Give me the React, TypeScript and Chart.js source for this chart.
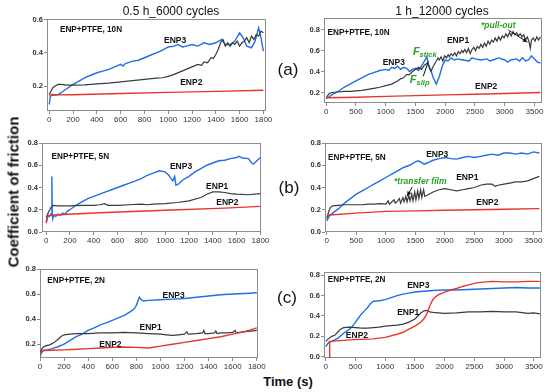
import React, { useEffect, useRef } from "react";
import { Chart, registerables } from "chart.js";
Chart.register(...registerables);

type Pt = [number, number];

// ---------- tick labels ----------
const xTicksHalfHour = [0, 200, 400, 600, 800, 1000, 1200, 1400, 1600, 1800];
const xTicksHour = [0, 500, 1000, 1500, 2000, 2500, 3000, 3500];
const yTicksTopLeft = [0.2, 0.4, 0.6];
const yTicksTopRight = [0.2, 0.4, 0.6, 0.8];
const yTicksFull = [0.0, 0.2, 0.4, 0.6, 0.8];
const yTicksBottomLeft = [0.2, 0.4, 0.6, 0.8];

const columnTitles = ["0.5 h_6000 cycles", "1 h_12000 cycles"];
const rowLetters = ["(a)", "(b)", "(c)"];
const yTitle = "Coefficient of friction";
const xTitle = "Time (s)";

// ---------- data: [time (s), COF] ----------
// (a) 10 N, 0.5 h
const a05Enp3: Pt[] = [[0,0.09],[10,0.14],[25,0.15],[50,0.145],[75,0.15],[100,0.16],[150,0.185],[200,0.21],[250,0.23],[300,0.25],[350,0.265],[400,0.28],[450,0.29],[500,0.30],[550,0.315],[600,0.33],[620,0.32],[640,0.335],[700,0.35],[750,0.355],[800,0.37],[850,0.385],[900,0.40],[950,0.415],[1000,0.435],[1050,0.44],[1080,0.45],[1120,0.435],[1150,0.44],[1200,0.45],[1250,0.44],[1300,0.46],[1350,0.45],[1400,0.46],[1450,0.48],[1480,0.45],[1520,0.45],[1560,0.47],[1600,0.52],[1630,0.49],[1660,0.44],[1700,0.43],[1730,0.47],[1760,0.55],[1780,0.49],[1800,0.41]];
const a05Enp1: Pt[] = [[0,0.15],[15,0.17],[30,0.19],[50,0.20],[75,0.21],[100,0.21],[150,0.205],[200,0.205],[300,0.207],[400,0.213],[500,0.218],[600,0.225],[700,0.232],[800,0.24],[900,0.248],[950,0.25],[1000,0.258],[1050,0.27],[1100,0.285],[1150,0.30],[1200,0.315],[1250,0.33],[1280,0.325],[1300,0.345],[1330,0.34],[1360,0.37],[1380,0.365],[1400,0.39],[1420,0.42],[1440,0.46],[1460,0.48],[1480,0.44],[1500,0.46],[1520,0.44],[1540,0.46],[1560,0.45],[1580,0.47],[1600,0.44],[1620,0.46],[1640,0.47],[1660,0.49],[1680,0.46],[1700,0.50],[1720,0.48],[1740,0.51],[1760,0.50],[1780,0.53],[1800,0.52]];
const a05Enp2: Pt[] = [[0,0.16],[10,0.14],[25,0.145],[50,0.147],[200,0.148],[600,0.155],[1000,0.162],[1400,0.168],[1800,0.175]];

// (a) 10 N, 1 h
const a1Enp3: Pt[] = [[0,0.14],[50,0.16],[100,0.18],[200,0.21],[300,0.25],[400,0.28],[500,0.31],[600,0.34],[700,0.37],[800,0.39],[900,0.41],[1000,0.42],[1050,0.41],[1100,0.44],[1150,0.43],[1200,0.45],[1250,0.42],[1300,0.44],[1350,0.43],[1400,0.40],[1450,0.42],[1500,0.43],[1550,0.41],[1600,0.45],[1650,0.50],[1690,0.54],[1720,0.47],[1760,0.41],[1800,0.34],[1850,0.28],[1900,0.35],[1950,0.45],[2000,0.51],[2050,0.50],[2100,0.53],[2150,0.51],[2200,0.52],[2300,0.51],[2400,0.50],[2450,0.53],[2500,0.52],[2600,0.51],[2700,0.52],[2750,0.50],[2800,0.51],[2900,0.53],[3000,0.51],[3050,0.49],[3100,0.51],[3200,0.52],[3250,0.50],[3300,0.53],[3350,0.50],[3400,0.51],[3450,0.55],[3500,0.52],[3550,0.49],[3600,0.48]];
const a1Enp1: Pt[] = [[0,0.15],[50,0.19],[100,0.20],[200,0.205],[300,0.21],[400,0.21],[500,0.215],[600,0.22],[700,0.23],[800,0.24],[900,0.25],[1000,0.265],[1100,0.28],[1200,0.31],[1250,0.33],[1300,0.34],[1350,0.37],[1400,0.37],[1450,0.40],[1500,0.42],[1550,0.44],[1600,0.42],[1650,0.46],[1700,0.48],[1730,0.44],[1760,0.40],[1800,0.45],[1850,0.50],[1880,0.53],[1900,0.51],[1930,0.54],[1960,0.50],[1990,0.55],[2020,0.53],[2050,0.56],[2070,0.54],[2100,0.57],[2130,0.55],[2160,0.58],[2190,0.55],[2220,0.59],[2250,0.57],[2280,0.60],[2300,0.58],[2330,0.61],[2360,0.58],[2390,0.62],[2420,0.57],[2450,0.61],[2480,0.63],[2510,0.60],[2540,0.64],[2570,0.62],[2600,0.66],[2630,0.63],[2660,0.67],[2690,0.64],[2720,0.69],[2750,0.66],[2780,0.70],[2810,0.68],[2840,0.72],[2870,0.69],[2900,0.73],[2930,0.70],[2960,0.74],[2990,0.72],[3020,0.76],[3050,0.73],[3080,0.77],[3110,0.74],[3140,0.78],[3170,0.75],[3200,0.77],[3230,0.74],[3260,0.76],[3290,0.73],[3320,0.75],[3350,0.70],[3380,0.73],[3410,0.68],[3430,0.62],[3450,0.70],[3480,0.72],[3510,0.69],[3540,0.73],[3570,0.70],[3600,0.73]];
const a1Enp2: Pt[] = [[0,0.15],[500,0.155],[1000,0.163],[1500,0.17],[2000,0.177],[2500,0.183],[3000,0.19],[3600,0.20]];

// (b) 5 N, 0.5 h
const b05Enp3: Pt[] = [[0,0.09],[10,0.13],[20,0.15],[30,0.14],[40,0.16],[45,0.15],[48,0.50],[51,0.16],[55,0.12],[65,0.15],[80,0.14],[100,0.16],[120,0.15],[140,0.17],[160,0.16],[180,0.19],[200,0.20],[250,0.24],[300,0.27],[350,0.30],[400,0.32],[450,0.34],[500,0.36],[550,0.38],[600,0.40],[650,0.42],[700,0.44],[750,0.46],[800,0.48],[850,0.51],[900,0.53],[950,0.55],[1000,0.54],[1030,0.51],[1050,0.48],[1065,0.46],[1080,0.50],[1090,0.42],[1110,0.43],[1150,0.47],[1200,0.50],[1250,0.54],[1300,0.57],[1350,0.60],[1400,0.62],[1450,0.64],[1500,0.645],[1550,0.66],[1600,0.67],[1620,0.68],[1650,0.665],[1700,0.66],[1720,0.63],[1740,0.61],[1760,0.63],[1780,0.65],[1800,0.67]];
const b05Enp1: Pt[] = [[0,0.13],[20,0.18],[40,0.22],[60,0.24],[100,0.235],[200,0.235],[300,0.24],[400,0.24],[450,0.245],[490,0.255],[520,0.24],[600,0.24],[700,0.245],[800,0.25],[850,0.245],[900,0.25],[1000,0.255],[1100,0.265],[1200,0.28],[1300,0.31],[1350,0.34],[1400,0.36],[1450,0.36],[1500,0.355],[1550,0.345],[1600,0.34],[1700,0.335],[1800,0.345]];
const b05Enp2: Pt[] = [[0,0.08],[15,0.14],[30,0.15],[100,0.155],[500,0.175],[1000,0.195],[1500,0.215],[1800,0.23]];

// (b) 5 N, 1 h
const b1Enp3: Pt[] = [[0,0.10],[50,0.15],[100,0.17],[200,0.21],[300,0.26],[400,0.30],[500,0.34],[600,0.37],[700,0.40],[800,0.43],[900,0.46],[1000,0.49],[1100,0.52],[1200,0.55],[1300,0.58],[1400,0.60],[1500,0.63],[1550,0.64],[1600,0.625],[1650,0.61],[1700,0.62],[1800,0.645],[1900,0.66],[2000,0.67],[2100,0.66],[2200,0.655],[2300,0.67],[2400,0.68],[2500,0.67],[2600,0.68],[2700,0.69],[2800,0.70],[2900,0.69],[3000,0.71],[3100,0.71],[3200,0.70],[3300,0.71],[3400,0.70],[3500,0.72],[3600,0.71]];
const b1Enp1: Pt[] = [[0,0.12],[30,0.18],[60,0.22],[100,0.235],[200,0.24],[300,0.245],[400,0.245],[500,0.245],[600,0.245],[700,0.25],[800,0.25],[900,0.255],[1000,0.25],[1040,0.28],[1060,0.25],[1100,0.27],[1140,0.29],[1160,0.26],[1200,0.28],[1230,0.30],[1250,0.26],[1290,0.31],[1310,0.27],[1340,0.32],[1360,0.27],[1390,0.33],[1410,0.28],[1440,0.34],[1460,0.28],[1490,0.36],[1510,0.29],[1540,0.37],[1560,0.30],[1590,0.38],[1610,0.31],[1640,0.38],[1660,0.32],[1700,0.33],[1800,0.36],[1900,0.38],[2000,0.39],[2100,0.38],[2200,0.37],[2300,0.38],[2400,0.39],[2500,0.40],[2600,0.42],[2700,0.43],[2800,0.43],[2850,0.41],[2900,0.42],[3000,0.43],[3100,0.44],[3200,0.45],[3300,0.45],[3400,0.46],[3500,0.48],[3600,0.50]];
const b1Enp2: Pt[] = [[0,0.15],[500,0.17],[1000,0.185],[1500,0.19],[2000,0.195],[2500,0.20],[3000,0.205],[3600,0.21]];

// (c) 2 N, 0.5 h
const c05Enp3: Pt[] = [[0,0.10],[10,0.13],[30,0.15],[60,0.155],[100,0.165],[150,0.18],[200,0.20],[250,0.23],[300,0.26],[350,0.28],[400,0.31],[450,0.33],[500,0.355],[550,0.37],[600,0.39],[650,0.41],[700,0.43],[750,0.46],[780,0.48],[800,0.51],[815,0.55],[825,0.575],[840,0.555],[860,0.545],[900,0.55],[1000,0.555],[1100,0.56],[1200,0.565],[1300,0.575],[1400,0.585],[1500,0.595],[1600,0.60],[1700,0.605],[1800,0.61]];
const c05Enp1: Pt[] = [[0,0.13],[20,0.17],[40,0.185],[80,0.195],[120,0.215],[150,0.24],[180,0.265],[200,0.275],[250,0.28],[300,0.285],[400,0.285],[500,0.29],[600,0.29],[700,0.295],[800,0.29],[900,0.285],[1000,0.28],[1050,0.275],[1100,0.27],[1150,0.275],[1200,0.28],[1220,0.30],[1230,0.28],[1300,0.285],[1350,0.29],[1360,0.31],[1370,0.285],[1400,0.285],[1450,0.29],[1460,0.305],[1470,0.285],[1500,0.29],[1550,0.29],[1600,0.295],[1620,0.31],[1630,0.29],[1700,0.30],[1750,0.305],[1800,0.31]];
const c05Enp2: Pt[] = [[0,0.12],[10,0.14],[30,0.15],[100,0.152],[200,0.155],[300,0.16],[400,0.165],[500,0.17],[600,0.175],[700,0.178],[800,0.175],[900,0.17],[1000,0.185],[1100,0.20],[1200,0.215],[1300,0.23],[1400,0.245],[1500,0.26],[1600,0.28],[1700,0.30],[1800,0.33]];

// (c) 2 N, 1 h
const c1Enp3: Pt[] = [[0,0.10],[50,0.14],[100,0.15],[200,0.18],[300,0.23],[400,0.27],[450,0.30],[500,0.34],[550,0.38],[600,0.42],[650,0.45],[700,0.48],[750,0.52],[800,0.545],[900,0.55],[1000,0.56],[1100,0.58],[1200,0.60],[1300,0.615],[1400,0.625],[1500,0.635],[1600,0.64],[1800,0.65],[2000,0.655],[2200,0.655],[2400,0.66],[2600,0.665],[2800,0.67],[3000,0.675],[3200,0.68],[3400,0.675],[3600,0.675]];
const c1Enp1: Pt[] = [[0,0.15],[50,0.18],[100,0.20],[150,0.21],[200,0.24],[250,0.27],[300,0.285],[400,0.29],[500,0.285],[600,0.28],[700,0.28],[800,0.285],[900,0.29],[1000,0.30],[1100,0.305],[1200,0.31],[1300,0.32],[1400,0.34],[1500,0.37],[1550,0.40],[1600,0.43],[1650,0.45],[1700,0.455],[1750,0.44],[1800,0.435],[1900,0.43],[2000,0.425],[2200,0.43],[2400,0.44],[2600,0.44],[2800,0.445],[3000,0.44],[3200,0.44],[3400,0.425],[3500,0.43],[3600,0.42]];
const c1Enp2: Pt[] = [[55,-0.05],[65,0.15],[200,0.155],[400,0.165],[600,0.17],[800,0.175],[1000,0.19],[1200,0.22],[1300,0.24],[1400,0.27],[1500,0.30],[1600,0.34],[1650,0.37],[1700,0.42],[1750,0.50],[1800,0.56],[1850,0.59],[1900,0.61],[2000,0.635],[2100,0.655],[2200,0.67],[2300,0.69],[2400,0.705],[2500,0.72],[2600,0.73],[2700,0.735],[2800,0.74],[3000,0.735],[3200,0.735],[3400,0.74],[3600,0.74]];

// ---------- styling / layout ----------
const FONT = "'Liberation Sans', Arial, Helvetica, sans-serif";
const C_ENP1 = "#3a3a3a";
const C_ENP2 = "#e8352b";
const C_ENP3 = "#1f6fe5";
const GREEN = "#2aa02a";
const FRAME = "#8c8c8c";
const YW = 26; // y-axis band width
const XH = 14; // x-axis band height
const PT = 7;
const PR = 14;

type Note = { t: string; x: number; y: number; kind: "panel" | "label" | "green" | "F"; sub?: string };
type Arrow = { x1: number; y1: number; x2: number; y2: number; head: boolean };
type PanelDef = {
  box: [number, number, number, number];
  xr: [number, number];
  yr: [number, number];
  xTicks: number[];
  yTicks: number[];
  enp1?: Pt[];
  enp2: Pt[];
  enp3: Pt[];
  notes: Note[];
  arrows: Arrow[];
};

const panels: PanelDef[] = [
  {
    box: [47, 19, 266, 111], xr: [-19, 1822], yr: [0.05, 0.603], xTicks: xTicksHalfHour, yTicks: yTicksTopLeft,
    enp1: a05Enp1, enp2: a05Enp2, enp3: a05Enp3,
    notes: [
      { t: "ENP+PTFE, 10N", x: 90, y: 0.536, kind: "panel" },
      { t: "ENP3", x: 1058, y: 0.47, kind: "label" },
      { t: "ENP2", x: 1194, y: 0.223, kind: "label" },
    ],
    arrows: [],
  },
  {
    box: [324, 18, 542, 103], xr: [-37, 3627], yr: [0.1, 0.91], xTicks: xTicksHour, yTicks: yTicksTopRight,
    enp1: a1Enp1, enp2: a1Enp2, enp3: a1Enp3,
    notes: [
      { t: "ENP+PTFE, 10N", x: 22, y: 0.767, kind: "panel" },
      { t: "*pull-out", x: 2892, y: 0.84, kind: "green" },
      { t: "ENP1", x: 2216, y: 0.69, kind: "label" },
      { t: "F", sub: "stick", x: 1457, y: 0.59, kind: "F" },
      { t: "ENP3", x: 1136, y: 0.485, kind: "label" },
      { t: "F", sub: "slip", x: 1406, y: 0.32, kind: "F" },
      { t: "ENP2", x: 2689, y: 0.257, kind: "label" },
    ],
    arrows: [
      { x1: 3060, y1: 0.795, x2: 3381, y2: 0.68, head: true },
      { x1: 1631, y1: 0.355, x2: 1716, y2: 0.495, head: false },
    ],
  },
  {
    box: [42, 143, 261, 232], xr: [-35, 1805], yr: [0, 0.8], xTicks: xTicksHalfHour, yTicks: yTicksFull,
    enp1: b05Enp1, enp2: b05Enp2, enp3: b05Enp3,
    notes: [
      { t: "ENP+PTFE, 5N", x: 45, y: 0.676, kind: "panel" },
      { t: "ENP3", x: 1133, y: 0.59, kind: "label" },
      { t: "ENP1", x: 1437, y: 0.41, kind: "label" },
      { t: "ENP2", x: 1522, y: 0.26, kind: "label" },
    ],
    arrows: [],
  },
  {
    box: [325, 143, 542, 232], xr: [-30, 3645], yr: [0, 0.8], xTicks: xTicksHour, yTicks: yTicksFull,
    enp1: b1Enp1, enp2: b1Enp2, enp3: b1Enp3,
    notes: [
      { t: "ENP+PTFE, 5N", x: 22, y: 0.667, kind: "panel" },
      { t: "ENP3", x: 1871, y: 0.694, kind: "label" },
      { t: "*transfer film", x: 1583, y: 0.45, kind: "green" },
      { t: "ENP1", x: 2380, y: 0.486, kind: "label" },
      { t: "ENP2", x: 2720, y: 0.26, kind: "label" },
    ],
    arrows: [{ x1: 1447, y1: 0.405, x2: 1362, y2: 0.323, head: true }],
  },
  {
    box: [40, 269, 258, 358], xr: [0, 1810], yr: [0.09, 0.8], xTicks: xTicksHalfHour, yTicks: yTicksBottomLeft,
    enp1: c05Enp1, enp2: c05Enp2, enp3: c05Enp3,
    notes: [
      { t: "ENP+PTFE, 2N", x: 61, y: 0.703, kind: "panel" },
      { t: "ENP3", x: 1109, y: 0.59, kind: "label" },
      { t: "ENP1", x: 918, y: 0.33, kind: "label" },
      { t: "ENP2", x: 585, y: 0.2, kind: "label" },
    ],
    arrows: [],
  },
  {
    box: [324, 272, 541, 358], xr: [-30, 3620], yr: [-0.013, 0.832], xTicks: xTicksHour, yTicks: yTicksFull,
    enp1: c1Enp1, enp2: c1Enp2, enp3: c1Enp3,
    notes: [
      { t: "ENP+PTFE, 2N", x: 34, y: 0.76, kind: "panel" },
      { t: "ENP3", x: 1556, y: 0.7, kind: "label" },
      { t: "ENP1", x: 1387, y: 0.43, kind: "label" },
      { t: "ENP2", x: 524, y: 0.205, kind: "label" },
    ],
    arrows: [],
  },
];

function makePlugin(p: PanelDef) {
  return {
    id: "panelDecor",
    beforeDatasetsDraw(chart: any) {
      const { ctx, chartArea } = chart;
      ctx.save();
      ctx.strokeStyle = FRAME;
      ctx.lineWidth = 1;
      const l = Math.round(chartArea.left) + 0.5;
      const t = Math.round(chartArea.top) + 0.5;
      const r = Math.round(chartArea.right) - 0.5;
      const b = Math.round(chartArea.bottom) - 0.5;
      ctx.strokeRect(l, t, r - l, b - t);
      ctx.restore();
    },
    afterDatasetsDraw(chart: any) {
      const { ctx } = chart;
      const xs = chart.scales.x;
      const ys = chart.scales.y;
      ctx.save();
      ctx.textBaseline = "middle";
      for (const n of p.notes) {
        const px = xs.getPixelForValue(n.x);
        const py = ys.getPixelForValue(n.y);
        if (n.kind === "panel") {
          ctx.font = `bold 8.2px ${FONT}`;
          ctx.fillStyle = "#111";
          ctx.textAlign = "left";
          ctx.fillText(n.t, px, py);
        } else if (n.kind === "label") {
          ctx.font = `bold 8.5px ${FONT}`;
          ctx.fillStyle = "#111";
          ctx.textAlign = "center";
          ctx.fillText(n.t, px, py);
        } else if (n.kind === "green") {
          ctx.font = `italic bold 8.5px ${FONT}`;
          ctx.fillStyle = GREEN;
          ctx.textAlign = "center";
          ctx.fillText(n.t, px, py);
        } else {
          ctx.fillStyle = GREEN;
          ctx.textAlign = "left";
          ctx.font = `italic bold 11px ${FONT}`;
          ctx.fillText(n.t, px, py);
          const w = ctx.measureText(n.t).width;
          ctx.font = `italic bold 7.5px ${FONT}`;
          ctx.fillText(n.sub || "", px + w, py + 3);
        }
      }
      ctx.strokeStyle = "#111";
      ctx.fillStyle = "#111";
      ctx.lineWidth = 1;
      for (const a of p.arrows) {
        const x1 = xs.getPixelForValue(a.x1), y1 = ys.getPixelForValue(a.y1);
        const x2 = xs.getPixelForValue(a.x2), y2 = ys.getPixelForValue(a.y2);
        ctx.beginPath();
        ctx.moveTo(x1, y1);
        ctx.lineTo(x2, y2);
        ctx.stroke();
        if (a.head) {
          const ang = Math.atan2(y2 - y1, x2 - x1);
          const L = 5;
          ctx.beginPath();
          ctx.moveTo(x2, y2);
          ctx.lineTo(x2 - L * Math.cos(ang - 0.45), y2 - L * Math.sin(ang - 0.45));
          ctx.lineTo(x2 - L * Math.cos(ang + 0.45), y2 - L * Math.sin(ang + 0.45));
          ctx.closePath();
          ctx.fill();
        }
      }
      ctx.restore();
    },
  };
}

function Panel({ p }: { p: PanelDef }) {
  const ref = useRef<HTMLCanvasElement>(null);
  const W = p.box[2] - p.box[0] + YW + PR;
  const H = p.box[3] - p.box[1] + PT + XH;
  useEffect(() => {
    const series: { data: Pt[]; color: string; width: number }[] = [];
    series.push({ data: p.enp2, color: C_ENP2, width: 1.4 });
    if (p.enp1) series.push({ data: p.enp1, color: C_ENP1, width: 1.2 });
    series.push({ data: p.enp3, color: C_ENP3, width: 1.4 });
    const chart = new Chart(ref.current as HTMLCanvasElement, {
      type: "line",
      data: {
        datasets: series.map((s) => ({
          data: s.data.map(([x, y]) => ({ x, y })),
          borderColor: s.color,
          borderWidth: s.width,
          pointRadius: 0,
          tension: 0,
          fill: false,
        })),
      },
      options: {
        animation: false,
        responsive: false,
        maintainAspectRatio: false,
        devicePixelRatio: 1,
        layout: { padding: { top: PT, right: PR, left: 0, bottom: 0 } },
        plugins: { legend: { display: false }, tooltip: { enabled: false } },
        scales: {
          x: {
            type: "linear",
            min: p.xr[0],
            max: p.xr[1],
            afterBuildTicks: (s: any) => {
              s.ticks = p.xTicks.map((v) => ({ value: v }));
            },
            afterFit: (s: any) => {
              s.height = XH;
            },
            ticks: {
              autoSkip: false,
              maxRotation: 0,
              minRotation: 0,
              padding: 1,
              color: "#333",
              font: { family: FONT, size: 8 },
              callback: (v: any) => String(v),
            },
            grid: { drawOnChartArea: false, drawTicks: true, tickLength: 3, color: FRAME },
            border: { display: false },
          },
          y: {
            type: "linear",
            min: p.yr[0],
            max: p.yr[1],
            afterBuildTicks: (s: any) => {
              s.ticks = p.yTicks.map((v) => ({ value: v }));
            },
            afterFit: (s: any) => {
              s.width = YW;
            },
            ticks: {
              autoSkip: false,
              padding: 1,
              color: "#333",
              font: { family: FONT, size: 7.5, weight: "bold" },
              callback: (v: any) => Number(v).toFixed(1),
            },
            grid: { drawOnChartArea: false, drawTicks: true, tickLength: 3, color: FRAME },
            border: { display: false },
          },
        },
      } as any,
      plugins: [makePlugin(p) as any],
    });
    return () => chart.destroy();
  }, []);
  return (
    <canvas
      ref={ref}
      width={W}
      height={H}
      style={{ position: "absolute", left: p.box[0] - YW, top: p.box[1] - PT, width: W, height: H }}
    />
  );
}

function Txt({ x, y, children, style }: { x: number; y: number; children: any; style?: any }) {
  return (
    <div
      style={{
        position: "absolute",
        left: x,
        top: y,
        transform: "translate(-50%, -50%)",
        whiteSpace: "nowrap",
        fontFamily: FONT,
        color: "#111",
        lineHeight: 1,
        ...style,
      }}
    >
      {children}
    </div>
  );
}

export default function App() {
  return (
    <div style={{ position: "absolute", left: 0, top: 0, width: 550, height: 392, background: "#fff", overflow: "hidden" }}>
      {panels.map((p, i) => (
        <Panel key={i} p={p} />
      ))}
      <Txt x={171} y={11} style={{ fontSize: 12 }}>{columnTitles[0]}</Txt>
      <Txt x={442} y={11} style={{ fontSize: 12 }}>{columnTitles[1]}</Txt>
      <Txt x={288} y={69} style={{ fontSize: 17 }}>{rowLetters[0]}</Txt>
      <Txt x={289} y={187} style={{ fontSize: 17 }}>{rowLetters[1]}</Txt>
      <Txt x={287} y={297} style={{ fontSize: 17 }}>{rowLetters[2]}</Txt>
      <Txt x={288} y={381} style={{ fontSize: 13, fontWeight: "bold" }}>{xTitle}</Txt>
      <Txt x={13} y={192} style={{ fontSize: 15, fontWeight: "bold", transform: "translate(-50%, -50%) rotate(-90deg)" }}>
        {yTitle}
      </Txt>
    </div>
  );
}
